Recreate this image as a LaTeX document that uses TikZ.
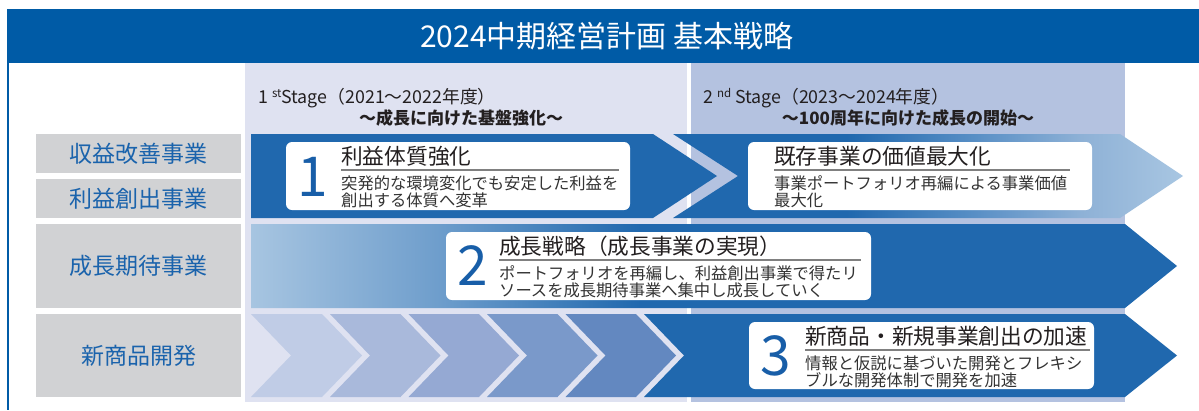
\documentclass[tikz,border=0pt]{standalone}
\usepackage{fontspec}
\setmainfont{Noto Sans CJK JP}
\usetikzlibrary{calc}
\definecolor{titleblue}{RGB}{0,91,166}
\definecolor{dkblue}{RGB}{32,104,174}
\definecolor{stageA}{RGB}{223,226,241}
\definecolor{stageB}{RGB}{180,194,224}
\definecolor{graybox}{RGB}{209,210,212}
\definecolor{labelblue}{RGB}{26,99,172}
\definecolor{numblue}{RGB}{24,94,168}
\definecolor{ltblue}{RGB}{168,198,226}
\definecolor{midblue}{RGB}{90,144,198}
\definecolor{paleblue}{RGB}{142,177,214}
\definecolor{rowtwoL}{RGB}{167,197,225}
\definecolor{rowtwoM}{RGB}{111,158,204}
\definecolor{chA}{RGB}{192,204,230}
\definecolor{chB}{RGB}{169,185,219}
\definecolor{chC}{RGB}{149,169,211}
\definecolor{chD}{RGB}{122,153,202}
\definecolor{chE}{RGB}{99,136,192}
\definecolor{inktext}{RGB}{35,31,32}
\definecolor{bodytext}{RGB}{51,51,51}
\definecolor{ulgray}{RGB}{128,128,128}
\pgfdeclarehorizontalshading{rowonefade}{100bp}{color(0bp)=(dkblue); color(25bp)=(dkblue); color(42bp)=(dkblue); color(55bp)=(midblue); color(65bp)=(paleblue); color(75bp)=(ltblue); color(100bp)=(ltblue)}
\pgfdeclarehorizontalshading{rowtwofade}{100bp}{color(0bp)=(rowtwoL); color(25bp)=(rowtwoL); color(35bp)=(rowtwoM); color(46bp)=(dkblue); color(100bp)=(dkblue)}
\tikzset{
  titletext/.style={text=white, inner sep=0pt, font=\fontsize{30}{30}\selectfont},
  graylabel/.style={fill=graybox, text=labelblue, inner sep=0pt, font=\fontsize{23}{23}\selectfont},
  whitebox/.style={fill=white, rounded corners=6pt, inner sep=0pt},
  boxtitle/.style={text=inktext, anchor=west, inner sep=0pt, font=\fontsize{21.7}{21.7}\selectfont},
  boxbody/.style={text=bodytext, anchor=west, inner sep=0pt, font=\fontsize{16.3}{16.3}\selectfont},
  bignum/.style={text=numblue, inner sep=0pt, font=\fontsize{55}{55}\selectfont},
  stagetext/.style={text=inktext, anchor=west, inner sep=0pt, font=\fontsize{17.8}{17.8}\selectfont},
  stagebold/.style={text=inktext, inner sep=0pt, font=\fontsize{17}{17}\selectfont\bfseries},
  uline/.style={draw=ulgray, line width=1.2pt}
}
\newcommand{\supx}[1]{{\fontsize{11.5}{11.5}\selectfont\raisebox{5.5pt}{#1}}}
\begin{document}
\begin{tikzpicture}[x=1pt,y=-1pt]
\useasboundingbox (0,0) rectangle (1199,410);
% stage backgrounds
\fill[stageA] (245,62) rectangle (687,402);
\fill[stageB] (691,62) rectangle (1125,402);
% title bar
\fill[titleblue] (7,9) rectangle (1199,63);
\node[titletext] (title) at (607,36) {2024中期経営計画 基本戦略};
\draw[titleblue, line width=1.5pt] (8,62) -- (8,410);
% stage captions
\node[stagetext] (s1) at (258,98) {1 \supx{st}Stage（2021～2022年度）};
\node[stagebold] (s1b) at (461,118) {～成長に向けた基盤強化～};
\node[stagetext] (s2) at (703,98) {2 \supx{nd} Stage（2023～2024年度）};
\node[stagebold] (s2b) at (908,118) {～100周年に向けた成長の開始～};
% left labels
\node[graylabel, minimum width=205pt, minimum height=39pt] (lab1) at (138.5,153.5) {収益改善事業};
\node[graylabel, minimum width=205pt, minimum height=39pt] (lab2) at (138.5,198.5) {利益創出事業};
\node[graylabel, minimum width=205pt, minimum height=84pt] (lab3) at (138.5,266) {成長期待事業};
\node[graylabel, minimum width=205pt, minimum height=83pt] (lab4) at (138.5,355.5) {新商品開発};
% row 1 arrows
\fill[dkblue] (251,134) -- (653,134) -- (717,176) -- (653,218) -- (251,218) -- cycle;
\shade[shading=rowonefade] (673,134) -- (1120,134) -- (1183,176) -- (1120,218) -- (673,218) -- (738,176) -- cycle;
% row 2 arrow
\shade[shading=rowtwofade] (251,224) -- (1125,224) -- (1177,266) -- (1125,308) -- (251,308) -- cycle;
% row 3 chevrons
\fill[chA] (251,314) -- (322,314) -- (362,355.5) -- (322,397) -- (251,397) -- (291,355.5) -- cycle;
\fill[chB] (330,314) -- (400.5,314) -- (440.5,355.5) -- (400.5,397) -- (330,397) -- (370,355.5) -- cycle;
\fill[chC] (408.5,314) -- (479,314) -- (519,355.5) -- (479,397) -- (408.5,397) -- (448.5,355.5) -- cycle;
\fill[chD] (487,314) -- (557.5,314) -- (597.5,355.5) -- (557.5,397) -- (487,397) -- (527,355.5) -- cycle;
\fill[chE] (565.5,314) -- (636,314) -- (676,355.5) -- (636,397) -- (565.5,397) -- (605.5,355.5) -- cycle;
\fill[dkblue] (644,314) -- (1125,314) -- (1177,355.5) -- (1125,397) -- (644,397) -- (684,355.5) -- cycle;
% white boxes
\node[whitebox, minimum width=344pt, minimum height=68pt] (wb1) at (458,176) {};
\node[whitebox, minimum width=344pt, minimum height=68pt] (wb2) at (920,176) {};
\node[whitebox, minimum width=425pt, minimum height=68pt] (wb3) at (658.5,266) {};
\node[whitebox, minimum width=345pt, minimum height=67pt] (wb4) at (921.5,355.5) {};
% box 1
\node[bignum] (n1) at (313,177) {1};
\node[boxtitle] (t1) at (341,156) {利益体質強化};
\draw[uline] (341,170) -- (619,170);
\node[boxbody] (b1a) at (341,183) {突発的な環境変化でも安定した利益を};
\node[boxbody] (b1b) at (341,200) {創出する体質へ変革};
% box 2
\node[boxtitle] (t2) at (774,156) {既存事業の価値最大化};
\draw[uline] (774,170) -- (1070,170);
\node[boxbody] (b2a) at (774,183) {事業ポートフォリオ再編による事業価値};
\node[boxbody] (b2b) at (774,200) {最大化};
% box 3
\node[bignum] (n2) at (473,266) {2};
\node[boxtitle] (t3) at (499,246) {成長戦略（成長事業の実現）};
\draw[uline] (499,260) -- (861,260);
\node[boxbody] (b3a) at (499,273) {ポートフォリオを再編し、利益創出事業で得たリ};
\node[boxbody] (b3b) at (499,290) {ソースを成長期待事業へ集中し成長していく};
% box 4
\node[bignum] (n3) at (776,356) {3};
\node[boxtitle] (t4) at (805,336) {新商品・新規事業創出の加速};
\draw[uline] (805,350) -- (1090,350);
\node[boxbody] (b4a) at (805,363) {情報と仮説に基づいた開発とフレキシ};
\node[boxbody] (b4b) at (805,380) {ブルな開発体制で開発を加速};
\end{tikzpicture}
\end{document}
